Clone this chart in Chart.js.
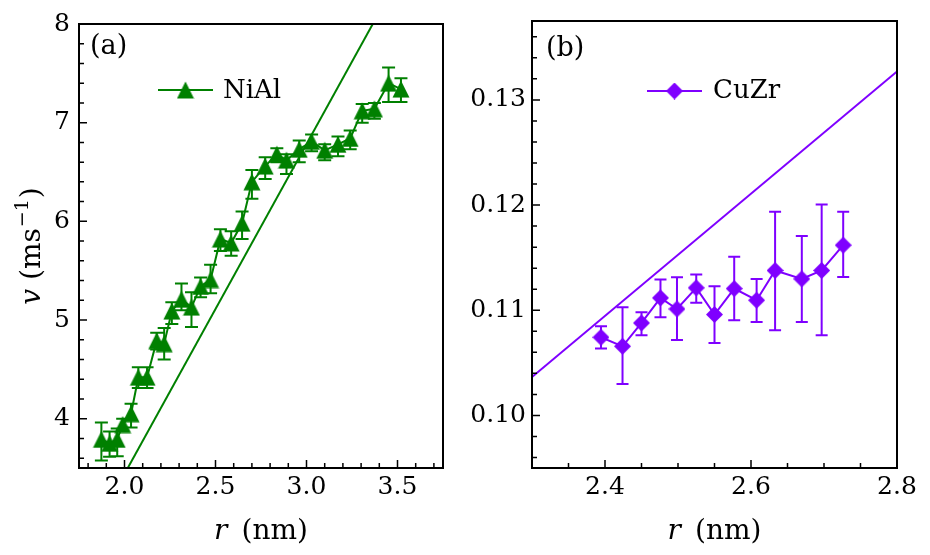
<!DOCTYPE html>
<html>
<head>
<meta charset="utf-8">
<script src="https://cdn.jsdelivr.net/npm/chart.js@4.4.1/dist/chart.umd.min.js"></script>
<style>
  html, body { margin: 0; padding: 0; background: #fff; }
  #wrap { position: relative; width: 930px; height: 555px; background: #fff; }
  canvas { position: absolute; top: 0; }
</style>
</head>
<body>
<div id="wrap">
  <canvas id="chartA" width="465" height="555" style="left:0"></canvas>
  <canvas id="chartB" width="465" height="555" style="left:465px"></canvas>
</div>
<script>
// ---------- panel (a): NiAl ----------
const niAlR   = [1.873, 1.918, 1.960, 1.990, 2.036, 2.076, 2.124, 2.177, 2.218, 2.260,
                 2.313, 2.368, 2.418, 2.473, 2.527, 2.586, 2.646, 2.700, 2.773, 2.837,
                 2.890, 2.960, 3.028, 3.100, 3.173, 3.240, 3.306, 3.373, 3.451, 3.519];
const niAlV   = [3.79, 3.75, 3.79, 3.94, 4.05, 4.42, 4.42, 4.79, 4.76, 5.09,
                 5.21, 5.13, 5.34, 5.41, 5.82, 5.78, 5.98, 6.40, 6.56, 6.68,
                 6.62, 6.73, 6.81, 6.72, 6.78, 6.84, 7.12, 7.14, 7.40, 7.34];
const niAlVHi = [3.96, 3.87, 3.90, 4.00, 4.15, 4.52, 4.52, 4.87, 4.92, 5.18,
                 5.37, 5.28, 5.43, 5.56, 5.92, 5.90, 6.10, 6.52, 6.65, 6.74,
                 6.68, 6.82, 6.88, 6.78, 6.86, 6.92, 7.19, 7.20, 7.56, 7.45];
const niAlVLo = [3.575, 3.615, 3.62, 3.88, 3.91, 4.31, 4.31, 4.70, 4.60, 4.96,
                 5.10, 4.93, 5.23, 5.27, 5.70, 5.65, 5.82, 6.23, 6.43, 6.60,
                 6.48, 6.60, 6.71, 6.62, 6.66, 6.73, 7.00, 7.04, 7.21, 7.21];
const niAlFitR = [2.0, 3.4];
const niAlFitV = [3.44, 8.12];
const niAlXTicks  = [2.0, 2.5, 3.0, 3.5];
const niAlXLabels = ['2.0', '2.5', '3.0', '3.5'];
const niAlYTicks  = [4, 5, 6, 7, 8];
const niAlYLabels = ['4', '5', '6', '7', '8'];

// ---------- panel (b): CuZr ----------
const cuZrR   = [2.3945, 2.424, 2.450, 2.476, 2.4986, 2.525, 2.550,
                 2.577, 2.6077, 2.633, 2.6696, 2.6968, 2.7263];
const cuZrV   = [0.10743, 0.10657, 0.10879, 0.11117, 0.11012, 0.11213, 0.10959,
                 0.11206, 0.11095, 0.11378, 0.11298, 0.11378, 0.11619];
const cuZrVHi = [0.10848, 0.11029, 0.10981, 0.11292, 0.11314, 0.11340, 0.11229,
                 0.11508, 0.11298, 0.11936, 0.11705, 0.12006, 0.11936];
const cuZrVLo = [0.10635, 0.10298, 0.10762, 0.10933, 0.10717, 0.11070, 0.10689,
                 0.10905, 0.10889, 0.10810, 0.10889, 0.10762, 0.11317];
const cuZrFitR = [2.3, 2.8];
const cuZrFitV = [0.10365, 0.1327];
const cuZrXTicks  = [2.4, 2.6, 2.8];
const cuZrXLabels = ['2.4', '2.6', '2.8'];
const cuZrYTicks  = [0.10, 0.11, 0.12, 0.13];
const cuZrYLabels = ['0.10', '0.11', '0.12', '0.13'];

// ---------- helpers ----------
const FAMILY = '"DejaVu Serif"';
function font(size, style) {
    return (style ? style + ' ' : '') + size + 'px ' + FAMILY;
}

function pts(xs, ys) {
    return xs.map((x, i) => ({ x: x, y: ys[i] }));
}

function minorTicks(min, max, step) {
    const out = [];
    for (let k = Math.ceil(min / step - 1e-9); k * step <= max + 1e-9; k++) {
        out.push(+(k * step).toFixed(6));
    }
    return out;
}

// marker images, centred on the point like matplotlib's
function markerTriangle(color, size) {
    const c = document.createElement('canvas');
    c.width = size; c.height = size;
    const g = c.getContext('2d');
    g.fillStyle = color;
    g.beginPath();
    g.moveTo(size / 2, 0.5);
    g.lineTo(size - 0.5, size - 0.5);
    g.lineTo(0.5, size - 0.5);
    g.closePath();
    g.fill();
    return c;
}

function markerDiamond(color, size) {
    const c = document.createElement('canvas');
    c.width = size; c.height = size;
    const g = c.getContext('2d');
    const h = size / 2;
    g.fillStyle = color;
    g.beginPath();
    g.moveTo(h, 0); g.lineTo(size, h); g.lineTo(h, size); g.lineTo(0, h);
    g.closePath();
    g.fill();
    return c;
}

// pieces of text on one baseline, centred on x
function drawRichText(ctx, pieces, x, y) {
    let total = 0;
    pieces.forEach(p => {
        ctx.font = p.font;
        p.w = ctx.measureText(p.text).width;
        total += p.w + (p.gap || 0);
    });
    let cx = x - total / 2;
    pieces.forEach(p => {
        ctx.font = p.font;
        ctx.fillText(p.text, cx, y + (p.dy || 0));
        cx += p.w + (p.gap || 0);
    });
}

function drawErrorBars(chart, o) {
    const ctx = chart.ctx, a = chart.chartArea;
    const sx = chart.scales.x, sy = chart.scales.y;
    ctx.save();
    ctx.beginPath();
    ctx.rect(a.left, a.top, a.right - a.left, a.bottom - a.top);
    ctx.clip();
    ctx.strokeStyle = o.color;
    ctx.lineWidth = 2;
    ctx.beginPath();
    o.xs.forEach((xv, i) => {
        const px = sx.getPixelForValue(xv);
        const top = sy.getPixelForValue(o.hi[i]);
        const bot = sy.getPixelForValue(o.lo[i]);
        ctx.moveTo(px, top); ctx.lineTo(px, bot);
        ctx.moveTo(px - o.cap, top); ctx.lineTo(px + o.cap, top);
        ctx.moveTo(px - o.cap, bot); ctx.lineTo(px + o.cap, bot);
    });
    ctx.stroke();
    ctx.restore();
}

function panelPlugin(o) {
    return {
        id: 'panel_' + o.name,
        beforeDatasetsDraw(chart) {
            drawErrorBars(chart, o);
        },
        afterDraw(chart) {
            const ctx = chart.ctx, a = chart.chartArea;
            const sx = chart.scales.x, sy = chart.scales.y;
            ctx.save();

            // frame
            ctx.strokeStyle = '#000';
            ctx.lineWidth = 2;
            ctx.strokeRect(a.left, a.top, a.right - a.left, a.bottom - a.top);

            // inward ticks, bottom and left only
            ctx.lineWidth = 1.5;
            ctx.beginPath();
            minorTicks(o.xMin, o.xMax, o.xMinorStep).forEach(v => {
                const p = sx.getPixelForValue(v);
                ctx.moveTo(p, a.bottom); ctx.lineTo(p, a.bottom - 5);
            });
            o.xTicks.forEach(v => {
                const p = sx.getPixelForValue(v);
                ctx.moveTo(p, a.bottom); ctx.lineTo(p, a.bottom - 8);
            });
            minorTicks(o.yMin, o.yMax, o.yMinorStep).forEach(v => {
                const p = sy.getPixelForValue(v);
                ctx.moveTo(a.left, p); ctx.lineTo(a.left + 5, p);
            });
            o.yTicks.forEach(v => {
                const p = sy.getPixelForValue(v);
                ctx.moveTo(a.left, p); ctx.lineTo(a.left + 8, p);
            });
            ctx.stroke();

            // legend: line + marker + name
            const lg = o.legend;
            ctx.strokeStyle = o.color;
            ctx.lineWidth = 2;
            ctx.beginPath();
            ctx.moveTo(lg.x1, lg.y); ctx.lineTo(lg.x2, lg.y);
            ctx.stroke();
            const mx = (lg.x1 + lg.x2) / 2;
            ctx.drawImage(o.marker, mx - o.marker.width / 2, lg.y - o.marker.height / 2);
            ctx.fillStyle = '#000';
            ctx.textAlign = 'left';
            ctx.textBaseline = 'alphabetic';
            ctx.font = font(26);
            ctx.fillText(o.name, lg.tx, lg.ty);

            // panel label
            ctx.font = font(27);
            ctx.fillText(o.label.text, o.label.x, o.label.y);

            // x title: r (nm)
            drawRichText(ctx, [
                { text: 'r', font: font(28, 'italic'), gap: 14 },
                { text: '(nm)', font: font(28) }
            ], (a.left + a.right) / 2, o.xTitleY);

            // y title: v (ms^-1)
            if (o.yTitleX) {
                ctx.save();
                ctx.translate(o.yTitleX, (a.top + a.bottom) / 2);
                ctx.rotate(-Math.PI / 2);
                drawRichText(ctx, [
                    { text: 'v', font: font(28, 'italic'), gap: 9 },
                    { text: '(ms', font: font(28), gap: 1 },
                    { text: '\u22121', font: font(19), dy: -12, gap: 1 },
                    { text: ')', font: font(28) }
                ], 0, 0);
                ctx.restore();
            }
            ctx.restore();
        }
    };
}

function makeChart(id, o) {
    return new Chart(document.getElementById(id), {
        type: 'scatter',
        data: {
            datasets: [
                {
                    data: pts(o.xs, o.ys),
                    showLine: true,
                    borderColor: o.color,
                    backgroundColor: o.color,
                    borderWidth: 2,
                    pointStyle: o.marker,
                    pointRadius: 8,
                    pointHoverRadius: 8
                },
                {
                    data: pts(o.fitX, o.fitY),
                    showLine: true,
                    borderColor: o.color,
                    borderWidth: 2,
                    pointRadius: 0,
                    clip: 0
                }
            ]
        },
        options: {
            responsive: false,
            animation: false,
            devicePixelRatio: 1,
            events: [],
            layout: { padding: { top: o.padTop, right: o.padRight, left: 0, bottom: 0 } },
            plugins: {
                legend: { display: false },
                tooltip: { enabled: false }
            },
            scales: {
                x: {
                    type: 'linear',
                    min: o.xMin,
                    max: o.xMax,
                    grid: { display: false, drawTicks: false },
                    border: { display: false },
                    afterBuildTicks: s => { s.ticks = o.xTicks.map(v => ({ value: v })); },
                    afterFit: s => { s.height = 87; },
                    ticks: {
                        font: { family: 'DejaVu Serif', size: 25 },
                        color: '#000',
                        padding: 4,
                        maxRotation: 0,
                        autoSkip: false,
                        callback: (v, i) => o.xLabels[i]
                    }
                },
                y: {
                    type: 'linear',
                    min: o.yMin,
                    max: o.yMax,
                    grid: { display: false, drawTicks: false },
                    border: { display: false },
                    afterBuildTicks: s => { s.ticks = o.yTicks.map(v => ({ value: v })); },
                    afterFit: s => { s.width = o.axisLeft; },
                    ticks: {
                        font: { family: 'DejaVu Serif', size: 25 },
                        color: '#000',
                        padding: o.yPad,
                        autoSkip: false,
                        callback: (v, i) => o.yLabels[i]
                    }
                }
            }
        },
        plugins: [panelPlugin(o)]
    });
}

// ---------- build ----------
const GREEN = '#008000';
const PURPLE = '#7f00ff';

makeChart('chartA', {
    name: 'NiAl',
    color: GREEN,
    marker: markerTriangle(GREEN, 18),
    xs: niAlR, ys: niAlV, hi: niAlVHi, lo: niAlVLo, cap: 6.5,
    fitX: niAlFitR, fitY: niAlFitV,
    xMin: 1.75, xMax: 3.75, xMinorStep: 0.1, xTicks: niAlXTicks, xLabels: niAlXLabels,
    yMin: 3.5, yMax: 8, yMinorStep: 0.2, yTicks: niAlYTicks, yLabels: niAlYLabels,
    axisLeft: 79, padTop: 21, padRight: 22, yPad: 9,
    legend: { x1: 158, x2: 213, y: 90, tx: 223, ty: 98 },
    label: { text: '(a)', x: 90, y: 54 },
    xTitleY: 539,
    yTitleX: 40
});

makeChart('chartB', {
    name: 'CuZr',
    color: PURPLE,
    marker: markerDiamond(PURPLE, 17),
    xs: cuZrR, ys: cuZrV, hi: cuZrVHi, lo: cuZrVLo, cap: 6,
    fitX: cuZrFitR, fitY: cuZrFitV,
    xMin: 2.3, xMax: 2.8, xMinorStep: 0.05, xTicks: cuZrXTicks, xLabels: cuZrXLabels,
    yMin: 0.095, yMax: 0.1375, yMinorStep: 0.002, yTicks: cuZrYTicks, yLabels: cuZrYLabels,
    axisLeft: 67, padTop: 20, padRight: 33, yPad: 6,
    legend: { x1: 182, x2: 237, y: 91, tx: 248, ty: 98 },
    label: { text: '(b)', x: 81, y: 56 },
    xTitleY: 539,
    yTitleX: 0
});
</script>
</body>
</html>
